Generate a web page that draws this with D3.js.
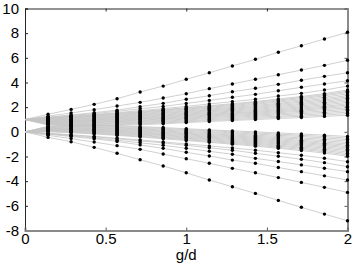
<!DOCTYPE html>
<html>
<head>
<meta charset="utf-8">
<script src="https://cdn.jsdelivr.net/npm/d3@7"></script>
<style>
  body { margin: 0; background: #fff; }
  svg { display: block; font-family: "Liberation Sans", Arial, Helvetica, sans-serif; }
</style>
</head>
<body>
<div id="chart"></div>
<script>
// coupling values g/d where the levels were computed
const gOverD = [0, 0.143, 0.286, 0.429, 0.571, 0.714, 0.857, 1, 1.143, 1.286, 1.429, 1.571, 1.714, 1.857, 2];

// levels starting at E = 1 (one value per g/d column)
const upperLevels = [
  [1, 1.42, 1.82, 2.23, 2.68, 3.23, 3.71, 4.26, 4.79, 5.34, 5.88, 6.45, 6.98, 7.53, 8.07],
  [1, 1.27, 1.53, 1.80, 2.09, 2.39, 2.74, 3.09, 3.50, 3.88, 4.26, 4.63, 5.01, 5.39, 5.80],
  [1, 1.19, 1.37, 1.55, 1.76, 2.04, 2.31, 2.64, 2.93, 3.25, 3.53, 3.85, 4.18, 4.50, 4.79],
  [1, 1.16, 1.32, 1.48, 1.66, 1.87, 2.06, 2.30, 2.55, 2.80, 3.04, 3.33, 3.61, 3.88, 4.14],
  [1, 1.13, 1.26, 1.40, 1.55, 1.72, 1.88, 2.06, 2.26, 2.45, 2.64, 2.90, 3.12, 3.39, 3.71],
  [1, 1.12, 1.24, 1.36, 1.50, 1.64, 1.80, 1.96, 2.12, 2.28, 2.46, 2.66, 2.86, 3.10, 3.39],
  [1, 1.09, 1.20, 1.32, 1.45, 1.59, 1.75, 1.90, 2.06, 2.21, 2.39, 2.58, 2.78, 3.01, 3.29],
  [1, 1.06, 1.16, 1.27, 1.40, 1.53, 1.69, 1.84, 1.99, 2.14, 2.31, 2.50, 2.69, 2.92, 3.19],
  [1, 1.03, 1.12, 1.22, 1.34, 1.47, 1.62, 1.77, 1.92, 2.06, 2.23, 2.41, 2.59, 2.81, 3.07],
  [1, 0.99, 1.07, 1.17, 1.28, 1.41, 1.55, 1.69, 1.84, 1.98, 2.14, 2.31, 2.49, 2.69, 2.94],
  [1, 0.96, 1.03, 1.12, 1.23, 1.35, 1.49, 1.63, 1.77, 1.91, 2.06, 2.23, 2.40, 2.59, 2.83],
  [1, 0.93, 0.99, 1.07, 1.18, 1.29, 1.42, 1.56, 1.70, 1.83, 1.98, 2.14, 2.30, 2.49, 2.72],
  [1, 0.90, 0.95, 1.02, 1.13, 1.23, 1.36, 1.50, 1.63, 1.76, 1.90, 2.06, 2.21, 2.39, 2.61],
  [1, 0.87, 0.91, 0.97, 1.07, 1.17, 1.29, 1.43, 1.56, 1.68, 1.82, 1.97, 2.11, 2.29, 2.49],
  [1, 0.84, 0.87, 0.93, 1.02, 1.12, 1.23, 1.37, 1.49, 1.61, 1.74, 1.88, 2.02, 2.19, 2.38],
  [1, 0.81, 0.82, 0.88, 0.96, 1.06, 1.17, 1.30, 1.42, 1.53, 1.66, 1.79, 1.93, 2.08, 2.27],
  [1, 0.78, 0.79, 0.84, 0.91, 1.01, 1.11, 1.24, 1.36, 1.47, 1.59, 1.71, 1.85, 1.99, 2.17],
  [1, 0.75, 0.75, 0.79, 0.86, 0.95, 1.05, 1.17, 1.29, 1.40, 1.51, 1.63, 1.76, 1.90, 2.06],
  [1, 0.72, 0.71, 0.74, 0.81, 0.89, 0.99, 1.11, 1.22, 1.33, 1.43, 1.55, 1.67, 1.80, 1.95],
  [1, 0.69, 0.66, 0.69, 0.75, 0.83, 0.93, 1.04, 1.15, 1.25, 1.35, 1.46, 1.57, 1.69, 1.84],
  [1, 0.66, 0.62, 0.64, 0.70, 0.77, 0.86, 0.97, 1.07, 1.17, 1.27, 1.37, 1.47, 1.58, 1.72],
  [1, 0.62, 0.57, 0.59, 0.64, 0.71, 0.79, 0.89, 0.99, 1.08, 1.18, 1.27, 1.36, 1.47, 1.60],
  [1, 0.59, 0.53, 0.54, 0.58, 0.65, 0.72, 0.82, 0.92, 1.00, 1.09, 1.18, 1.26, 1.36, 1.48],
  [1, 0.55, 0.48, 0.48, 0.52, 0.58, 0.65, 0.75, 0.84, 0.92, 1.00, 1.08, 1.16, 1.25, 1.35]
];

// levels starting at E = 0
const lowerLevels = [
  [0, -0.45, -0.80, -1.26, -1.74, -2.26, -2.77, -3.32, -3.91, -4.45, -4.99, -5.56, -6.12, -6.67, -7.21],
  [0, -0.28, -0.55, -0.83, -1.12, -1.42, -1.80, -2.18, -2.55, -2.96, -3.32, -3.71, -4.10, -4.50, -4.91],
  [0, -0.19, -0.38, -0.56, -0.78, -1.06, -1.34, -1.66, -1.96, -2.29, -2.55, -2.89, -3.23, -3.57, -3.91],
  [0, -0.16, -0.33, -0.49, -0.68, -0.89, -1.09, -1.33, -1.58, -1.82, -2.15, -2.41, -2.68, -2.95, -3.23],
  [0, -0.13, -0.27, -0.41, -0.56, -0.74, -0.90, -1.09, -1.29, -1.49, -1.74, -1.98, -2.22, -2.50, -2.83],
  [0, -0.12, -0.24, -0.37, -0.51, -0.65, -0.82, -0.98, -1.14, -1.31, -1.49, -1.69, -1.90, -2.14, -2.42],
  [0, 0.01, -0.07, -0.17, -0.29, -0.42, -0.56, -0.70, -0.85, -1.00, -1.16, -1.33, -1.52, -1.72, -1.98],
  [0, 0.04, -0.03, -0.12, -0.24, -0.36, -0.50, -0.64, -0.78, -0.93, -1.08, -1.25, -1.43, -1.62, -1.87],
  [0, 0.07, 0.01, -0.07, -0.18, -0.30, -0.43, -0.57, -0.71, -0.85, -1.00, -1.16, -1.33, -1.52, -1.75],
  [0, 0.10, 0.05, -0.02, -0.13, -0.24, -0.37, -0.51, -0.64, -0.78, -0.92, -1.08, -1.24, -1.42, -1.64],
  [0, 0.13, 0.09, 0.03, -0.07, -0.18, -0.30, -0.44, -0.57, -0.70, -0.84, -0.99, -1.14, -1.32, -1.52],
  [0, 0.16, 0.14, 0.08, -0.02, -0.13, -0.24, -0.38, -0.50, -0.63, -0.76, -0.91, -1.05, -1.22, -1.41],
  [0, 0.19, 0.18, 0.12, 0.04, -0.07, -0.18, -0.31, -0.43, -0.55, -0.68, -0.82, -0.96, -1.11, -1.30],
  [0, 0.22, 0.22, 0.17, 0.09, -0.01, -0.12, -0.24, -0.36, -0.48, -0.60, -0.74, -0.87, -1.02, -1.20],
  [0, 0.25, 0.25, 0.21, 0.14, 0.05, -0.05, -0.17, -0.29, -0.40, -0.52, -0.65, -0.78, -0.93, -1.09],
  [0, 0.28, 0.30, 0.26, 0.20, 0.11, 0.01, -0.11, -0.22, -0.33, -0.44, -0.56, -0.69, -0.83, -0.98],
  [0, 0.31, 0.34, 0.31, 0.25, 0.17, 0.07, -0.04, -0.15, -0.25, -0.36, -0.47, -0.59, -0.72, -0.87],
  [0, 0.35, 0.39, 0.36, 0.31, 0.23, 0.14, 0.04, -0.07, -0.17, -0.27, -0.38, -0.49, -0.61, -0.75],
  [0, 0.38, 0.43, 0.41, 0.36, 0.29, 0.21, 0.11, 0.01, -0.08, -0.18, -0.28, -0.38, -0.49, -0.63],
  [0, 0.42, 0.48, 0.47, 0.42, 0.36, 0.28, 0.18, 0.09, 0.00, -0.09, -0.19, -0.28, -0.38, -0.51],
  [0, 0.45, 0.52, 0.52, 0.48, 0.42, 0.35, 0.25, 0.16, 0.08, 0.00, -0.09, -0.18, -0.27, -0.38]
];

const xTicks = [0, 0.5, 1, 1.5, 2];
const yTicks = [-8, -6, -4, -2, 0, 2, 4, 6, 8, 10];
const xLabel = 'g/d';

const config = {
  width: 360,
  height: 272,
  margin: {top: 8.5, right: 12.5, bottom: 41.5, left: 25},
  tickLength: 3,
  dotRadius: 1.7
};

const innerW = config.width - config.margin.left - config.margin.right;
const innerH = config.height - config.margin.top - config.margin.bottom;

const svg = d3.select('#chart').append('svg')
    .attr('width', config.width)
    .attr('height', config.height);

const chart = svg.append('g')
    .attr('transform', `translate(${config.margin.left},${config.margin.top})`);

const xScale = d3.scaleLinear().domain([0, 2]).range([0, innerW]);
const yScale = d3.scaleLinear().domain([-8, 10]).range([innerH, 0]);

// axes: ticks point inward on all four sides
const fmt = d => String(d);
const xAxisBottom = d3.axisBottom(xScale).tickValues(xTicks).tickSize(-config.tickLength).tickPadding(3).tickFormat(fmt);
const xAxisTop = d3.axisTop(xScale).tickValues(xTicks).tickSize(-config.tickLength).tickFormat('');
const yAxisLeft = d3.axisLeft(yScale).tickValues(yTicks).tickSize(-config.tickLength).tickPadding(6).tickFormat(fmt);
const yAxisRight = d3.axisRight(yScale).tickValues(yTicks).tickSize(-config.tickLength).tickFormat('');

const gTop = chart.append('g').call(xAxisTop);
const gRight = chart.append('g').attr('transform', `translate(${innerW},0)`).call(yAxisRight);
const gLeft = chart.append('g').call(yAxisLeft);
const gBottom = chart.append('g').attr('transform', `translate(0,${innerH})`).call(xAxisBottom);

[gTop, gLeft].forEach(g => {
  g.select('.domain').attr('stroke', '#262626').attr('stroke-width', 1);
  g.selectAll('.tick line').attr('stroke', '#262626');
});
[gRight, gBottom].forEach(g => {
  g.select('.domain').attr('stroke', '#8a8a8a').attr('stroke-width', 2);
  g.selectAll('.tick line').attr('stroke', '#555');
});
chart.selectAll('.tick text')
    .attr('font-size', 15)
    .attr('fill', '#000')
    .attr('font-family', '"Liberation Sans", Arial, sans-serif');

// level curves
const line = d3.line()
    .x((d, i) => xScale(gOverD[i]))
    .y(d => yScale(d));

const allLevels = upperLevels.concat(lowerLevels);

chart.append('g')
  .selectAll('path')
  .data(allLevels)
  .join('path')
    .attr('d', line)
    .attr('fill', 'none')
    .attr('stroke', '#c4c4c4')
    .attr('stroke-width', 0.8);

// dots at each computed g/d (none at g = 0)
const points = [];
allLevels.forEach(lv => lv.forEach((v, i) => {
  if (gOverD[i] > 0) points.push({x: gOverD[i], y: v});
}));

chart.append('g')
  .selectAll('circle')
  .data(points)
  .join('circle')
    .attr('cx', d => xScale(d.x))
    .attr('cy', d => yScale(d.y))
    .attr('r', config.dotRadius)
    .attr('fill', '#000');

svg.append('text')
    .attr('x', config.margin.left + xScale(1))
    .attr('y', 260)
    .attr('text-anchor', 'middle')
    .attr('font-size', 15)
    .attr('fill', '#000')
    .text(xLabel);
</script>
</body>
</html>
